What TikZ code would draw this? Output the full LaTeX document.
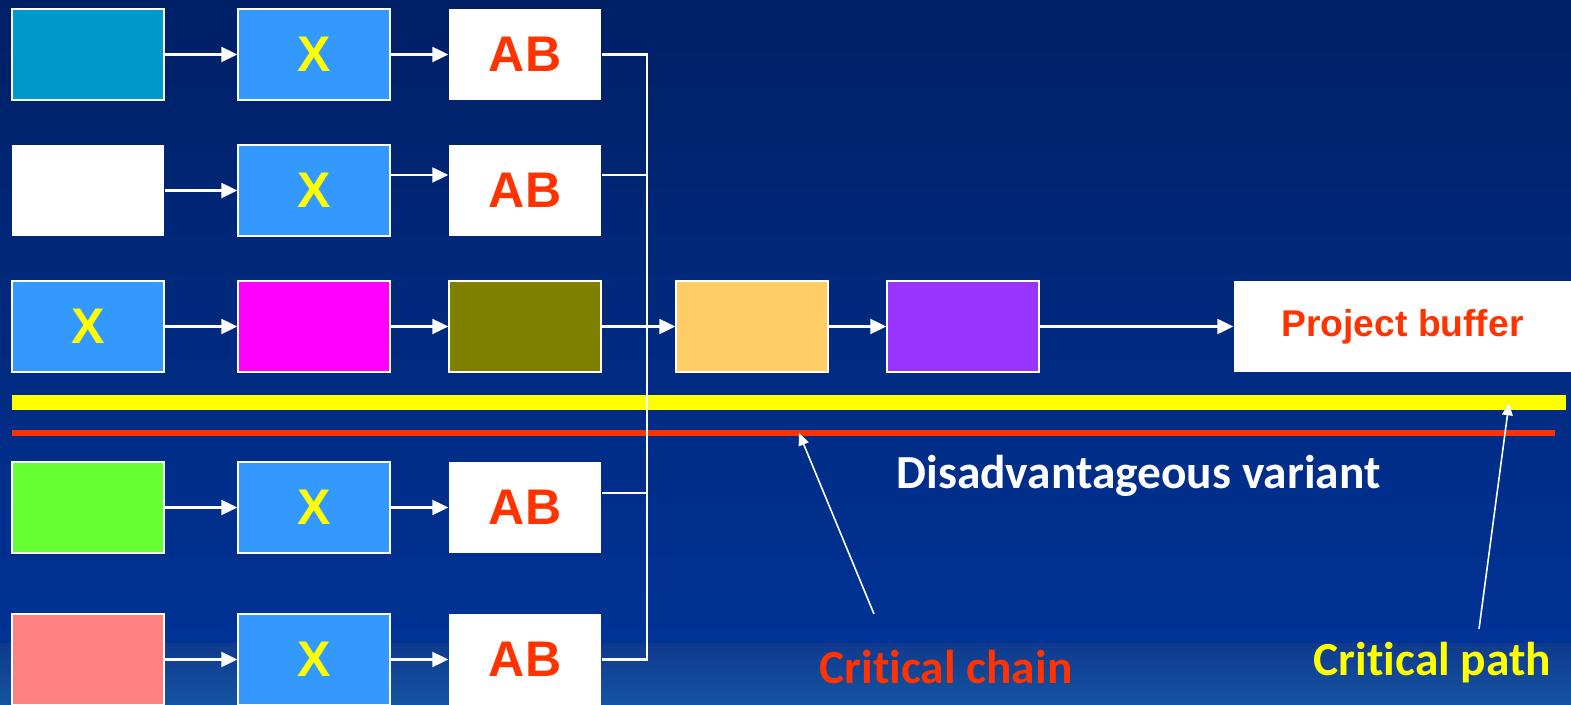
\documentclass[tikz,border=0pt]{standalone}
\usepackage{fontspec}
\setmainfont{Liberation Sans}
\newfontfamily\carlito[Ligatures=NoCommon]{Carlito}
\usetikzlibrary{arrows.meta}

\newcommand{\varw}{3.04cm}
\newcommand{\varh}{1.82cm}
\newcommand{\varup}{0.31cm}
\newcommand{\varupp}{0.29cm}
\definecolor{mynavy}{RGB}{0,32,102}
\definecolor{mydeep}{RGB}{0,51,150}
\definecolor{mysea}{RGB}{15,58,142}
\definecolor{mysky}{RGB}{20,84,160}
\definecolor{myteal}{RGB}{0,153,204}
\definecolor{myblue}{RGB}{51,153,255}
\definecolor{mymagenta}{RGB}{255,0,255}
\definecolor{myolive}{RGB}{128,128,0}
\definecolor{myorange}{RGB}{255,204,102}
\definecolor{mypurple}{RGB}{153,51,255}
\definecolor{mygreen}{RGB}{102,255,51}
\definecolor{mypink}{RGB}{255,128,128}
\definecolor{myred}{RGB}{255,51,0}
\definecolor{myyellow}{RGB}{255,255,0}

\begin{document}
\begin{tikzpicture}[x=0.02cm, y=-0.02cm,
	task/.style={draw=white, line width=0.9pt, minimum width=\varw, minimum height=\varh, inner sep=0pt},
	buffer/.style={task, draw=none, fill=white, text=myred, font=\bfseries\fontsize{28.5}{30}\selectfont},
	xtask/.style={task, fill=myblue, text=myyellow, font=\bfseries\fontsize{28.5}{30}\selectfont},
	flow/.style={white, line width=1.2pt, -{Triangle[length=9pt, width=8.5pt]}},
	wire/.style={white, line width=1.2pt},
	pointer/.style={white, line width=0.9pt, -{Triangle[length=7pt, width=6pt]}},
	caption/.style={anchor=base, font=\carlito\bfseries\fontsize{27}{29}\selectfont}]

	% background
	\useasboundingbox (0,0) rectangle (1571,705);
	\shade [top color=mynavy, bottom color=mydeep] (0,0) rectangle (1571,644);
	\shade [top color=mysea, bottom color=mysky] (0,643) rectangle (1571,705);

	% lines
	\coordinate (cp west) at (12,402.5);
	\coordinate (cp east) at (1566,402.5);
	\coordinate (cc west) at (12,433);
	\coordinate (cc east) at (1555,433);
	\draw [myyellow, line width=0.3cm] (cp west) -- (cp east);
	\draw [myred, line width=0.12cm] (cc west) -- (cc east);

	% tasks
	\node [task, fill=myteal] (a1) at (88,54.5) {};
	\node [xtask] (x1) at (314,54.5) {X};
	\node [buffer] (ab1) at (525,54.5) {AB};

	\node [task, fill=white, draw=none] (a2) at (88,190.5) {};
	\node [xtask] (x2) at (314,190.5) {X};
	\node [buffer] (ab2) at (525,190.5) {AB};

	\node [xtask] (x3) at (88,326.5) {X};
	\node [task, fill=mymagenta] (m3) at (314,326.5) {};
	\node [task, fill=myolive] (o3) at (525,326.5) {};
	\node [task, fill=myorange] (t4) at (752,326.5) {};
	\node [task, fill=mypurple] (t5) at (963,326.5) {};
	\node [buffer, minimum width=6.74cm, font=\bfseries\fontsize{21.2}{23}\selectfont] (pb) at (1402.5,326.5) {Project buffer};

	\node [task, fill=mygreen] (a4) at (88,507.5) {};
	\node [xtask] (x4) at (314,507.5) {X};
	\node [buffer] (ab4) at (525,507.5) {AB};

	\node [task, fill=mypink] (a5) at (88,659.5) {};
	\node [xtask] (x5) at (314,659.5) {X};
	\node [buffer] (ab5) at (525,659.5) {AB};

	% feeding bus
	\coordinate (bus) at (647,0);
	\draw [wire] (ab1.east) -- (ab1.east -| bus) -- (ab5.east -| bus) -- (ab5.east);
	\draw [wire] ([yshift=\varup]ab2.east) -- ([yshift=\varup]ab2.east -| bus);
	\draw [wire] ([yshift=\varupp]ab4.east) -- ([yshift=\varupp]ab4.east -| bus);

	% arrows
	\draw [flow] (a1) -- (x1);
	\draw [flow] (x1) -- (ab1);
	\draw [flow] (a2) -- (x2);
	\draw [flow] ([yshift=\varup]x2.east) -- ([yshift=\varup]ab2.west);
	\draw [flow] (x3) -- (m3);
	\draw [flow] (m3) -- (o3);
	\draw [flow] (o3) -- (t4);
	\draw [flow] (t4) -- (t5);
	\draw [flow] (t5) -- (pb);
	\draw [flow] (a4) -- (x4);
	\draw [flow] (x4) -- (ab4);
	\draw [flow] (a5) -- (x5);
	\draw [flow] (x5) -- (ab5);

	% captions
	\node [caption, text=white] (variant) at (1138.5,488) {Disadvantageous variant};
	\node [caption, text=myred] (chain) at (946,683) {Critical chain};
	\node [caption, text=myyellow] (path) at (1432.5,675) {Critical path};

	\coordinate (chain tail) at (874,614);
	\coordinate (chain tip) at (799,433);
	\coordinate (path tail) at (1479,629);
	\coordinate (path tip) at (1509,403);
	\draw [pointer] (chain tail) -- (chain tip);
	\draw [pointer] (path tail) -- (path tip);
\end{tikzpicture}
\end{document}
